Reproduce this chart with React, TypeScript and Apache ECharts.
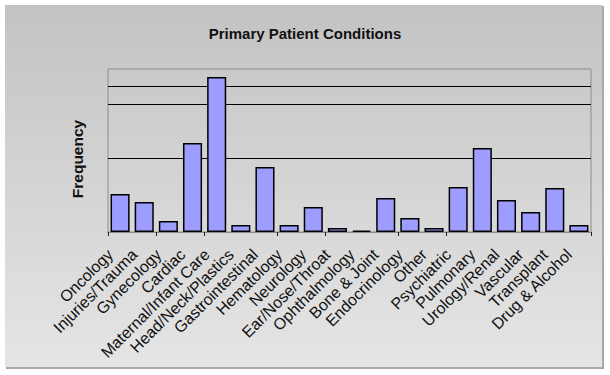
import React, { useEffect, useRef } from "react";
import * as echarts from "echarts";

const categories = [
  "Oncology",
  "Injuries/Trauma",
  "Gynecology",
  "Cardiac",
  "Maternal/Infant Care",
  "Head/Neck/Plastics",
  "Gastrointestinal",
  "Hematology",
  "Neurology",
  "Ear/Nose/Throat",
  "Ophthalmology",
  "Bone & Joint",
  "Endocrinology",
  "Other",
  "Psychiatric",
  "Pulmonary",
  "Urology/Renal",
  "Vascular",
  "Transplant",
  "Drug & Alcohol",
];

const frequency = [38, 30, 11, 89, 155, 7, 65, 7, 25, 4, 1.5, 34, 14, 4, 45, 84, 32, 20, 44, 7];

const gridLineValues = [74, 128, 146];
const tickIndices = [0, 2, 4, 7, 9, 12, 14];
const yMax = 163;

export default function App() {
  const ref = useRef<HTMLDivElement>(null);
  useEffect(() => {
    if (!ref.current) return;
    const chart = echarts.init(ref.current, null, { renderer: "svg" });
    chart.setOption({
      animation: false,
      backgroundColor: "#ffffff",
      graphic: [
        {
          type: "rect",
          shape: { x: 6, y: 6, width: 598, height: 363 },
          style: { fill: "#a8a8a8" },
          z: -11,
        },
        {
          type: "rect",
          shape: { x: 5, y: 5, width: 597, height: 362 },
          style: {
            fill: new echarts.graphic.LinearGradient(0, 0, 0, 1, [
              { offset: 0, color: "#c3c3c3" },
              { offset: 1, color: "#e5e5e5" },
            ]),
          },
          z: -10,
        },
        {
          type: "text",
          x: 77,
          y: 159,
          rotation: Math.PI / 2,
          style: {
            text: "Frequency",
            font: "bold 15.5px 'Liberation Sans', Arial, sans-serif",
            fill: "#111",
            align: "center",
            verticalAlign: "middle",
          },
        },
      ],
      title: {
        text: "Primary Patient Conditions",
        left: "center",
        top: 21,
        textStyle: {
          fontFamily: "'Liberation Sans', Arial, sans-serif",
          fontWeight: "bold",
          fontSize: 15,
          color: "#111",
        },
      },
      grid: {
        left: 108,
        right: 19,
        top: 69,
        bottom: 143,
        show: true,
        backgroundColor: new echarts.graphic.LinearGradient(0, 0, 0, 1, [
          { offset: 0, color: "#c9c9c9" },
          { offset: 1, color: "#d9d9d9" },
        ]),
        borderColor: "#8c8c8c",
        borderWidth: 1,
      },
      xAxis: {
        type: "category",
        data: categories,
        axisLine: { lineStyle: { color: "#8c8c8c", width: 1 } },
        axisTick: {
          show: true,
          length: 4,
          interval: (index: number) => tickIndices.includes(index),
          lineStyle: { color: "#222", width: 1 },
        },
        axisLabel: {
          interval: 0,
          rotate: 45,
          margin: 10,
          padding: [0, 14, 0, 0],
          fontSize: 16,
          fontFamily: "'Liberation Sans', Arial, sans-serif",
          color: "#111",
        },
      },
      yAxis: {
        type: "value",
        min: 0,
        max: yMax,
        axisLine: { show: false },
        axisTick: { show: false },
        axisLabel: { show: false },
        splitLine: { show: false },
      },
      series: [
        {
          type: "bar",
          data: frequency,
          barCategoryGap: "21%",
          itemStyle: {
            color: "#9d9dff",
            borderColor: "#000",
            borderWidth: 1.5,
          },
          markLine: {
            silent: true,
            symbol: "none",
            label: { show: false },
            lineStyle: { color: "#000", type: "solid", width: 1 },
            data: gridLineValues.map((v) => ({ yAxis: v })),
            z: 1,
          },
          z: 3,
        },
      ],
    });
    return () => chart.dispose();
  }, []);
  return (
    <div
      ref={ref}
      style={{ position: "fixed", left: 0, top: 0, width: 610, height: 375 }}
    />
  );
}
